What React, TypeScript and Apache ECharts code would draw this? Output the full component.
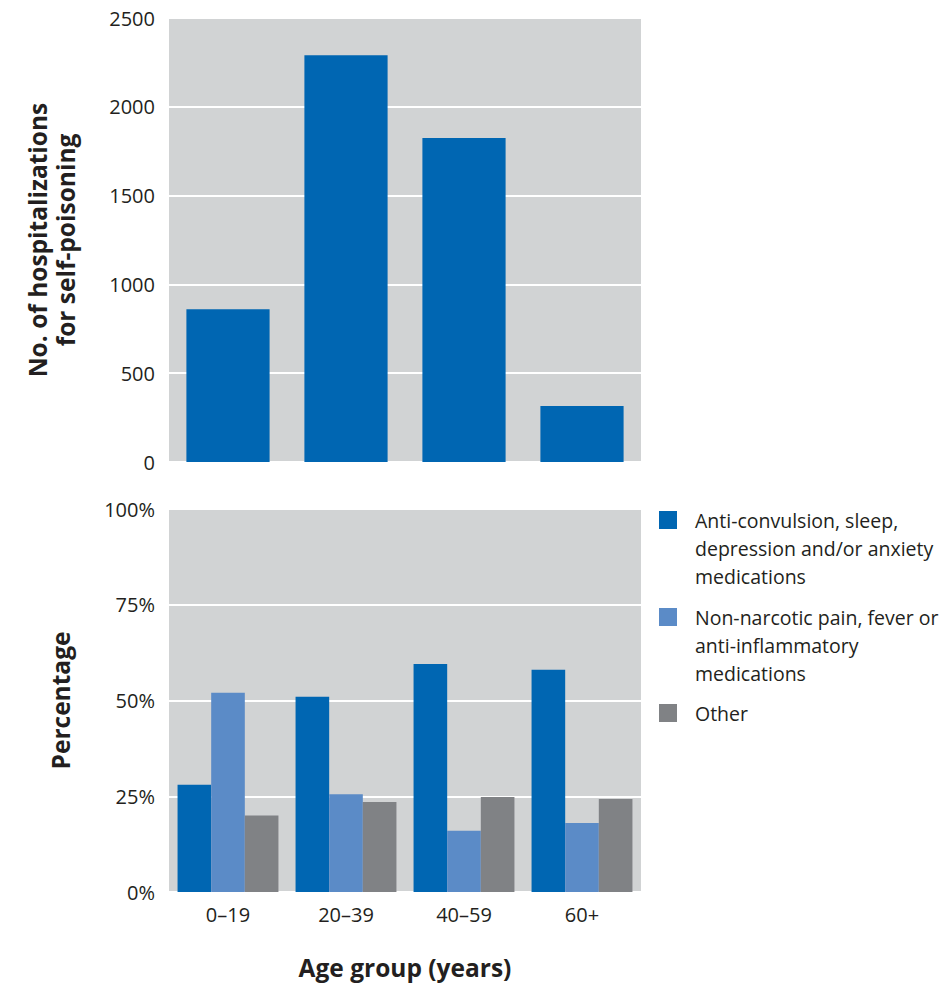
import React, { useEffect, useRef } from "react";
import * as echarts from "echarts";

const ageGroups = ["0–19", "20–39", "40–59", "60+"];
const hospitalizations = [860, 2290, 1825, 315];
const antiConvulsion = [28, 51, 59.5, 58];
const nonNarcotic = [52, 25.5, 16, 18];
const other = [20, 23.5, 24.8, 24.3];
const seriesNames = [
  "Anti-convulsion, sleep,\ndepression and/or anxiety\nmedications",
  "Non-narcotic pain, fever or\nanti-inflammatory\nmedications",
  "Other",
];
const seriesColors = ["#0066b2", "#5b8bc7", "#808285"];
const topTicks = [0, 500, 1000, 1500, 2000, 2500];
const pctTicks = [0, 25, 50, 75, 100];

const FONT = "'Open Sans', 'Noto Sans', sans-serif";
const TEXT = "#231f20";
const BG = "#d1d3d4";

export default function App() {
  const ref = useRef<HTMLDivElement>(null);
  useEffect(() => {
    if (!ref.current) return;
    const chart = echarts.init(ref.current, undefined, { renderer: "svg" });
    const legendY = [511, 608, 704];
    const graphic: any[] = [];
    seriesNames.forEach((n, i) => {
      graphic.push({
        type: "rect",
        left: 659,
        top: legendY[i],
        shape: { width: 18, height: 18 },
        style: { fill: seriesColors[i] },
      });
      graphic.push({
        type: "text",
        left: 695,
        top: legendY[i] - 5,
        style: {
          text: n,
          fill: TEXT,
          font: `19.5px ${FONT}`,
          lineHeight: 28,
        },
      });
    });
    const yLabel = {
      color: TEXT,
      fontSize: 20,
      fontFamily: FONT,
      margin: 14,
    };
    const titleStyle = { color: TEXT, fontSize: 24.5, fontWeight: "bold", fontFamily: FONT };
    chart.setOption({
      animation: false,
      textStyle: { fontFamily: FONT },
      grid: [
        { left: 169, top: 18, width: 472, height: 444, show: true, backgroundColor: BG, borderWidth: 0 },
        { left: 169, top: 509, width: 472, height: 383, show: true, backgroundColor: BG, borderWidth: 0 },
      ],
      xAxis: [
        {
          type: "category",
          gridIndex: 0,
          data: ageGroups,
          axisLine: { show: false },
          axisTick: { show: false },
          axisLabel: { show: false },
        },
        {
          type: "category",
          gridIndex: 1,
          data: ageGroups,
          axisLine: { show: false },
          axisTick: { show: false },
          axisLabel: { color: TEXT, fontSize: 20, fontFamily: FONT, margin: 12 },
          name: "Age group (years)",
          nameLocation: "middle",
          nameGap: 63,
          nameTextStyle: titleStyle,
        },
      ],
      yAxis: [
        {
          type: "value",
          gridIndex: 0,
          min: topTicks[0],
          max: topTicks[topTicks.length - 1],
          interval: 500,
          axisLine: { show: false },
          axisTick: { show: false },
          axisLabel: { ...yLabel, formatter: (v: number) => String(v) },
          splitLine: { lineStyle: { color: "#ffffff", width: 2 } },
          name: "No. of hospitalizations\nfor self-poisoning",
          nameLocation: "middle",
          nameGap: 90,
          nameRotate: 90,
          nameTextStyle: { ...titleStyle, lineHeight: 28 },
        },
        {
          type: "value",
          gridIndex: 1,
          min: pctTicks[0],
          max: pctTicks[pctTicks.length - 1],
          interval: 25,
          axisLine: { show: false },
          axisTick: { show: false },
          axisLabel: { ...yLabel, formatter: "{value}%" },
          splitLine: { lineStyle: { color: "#ffffff", width: 2 } },
          name: "Percentage",
          nameLocation: "middle",
          nameGap: 96,
          nameRotate: 90,
          nameTextStyle: titleStyle,
        },
      ],
      series: [
        {
          type: "bar",
          xAxisIndex: 0,
          yAxisIndex: 0,
          data: hospitalizations,
          barCategoryGap: "29.5%",
          itemStyle: { color: seriesColors[0] },
        },
        ...[antiConvulsion, nonNarcotic, other].map((d, i) => ({
          type: "bar",
          name: seriesNames[i],
          xAxisIndex: 1,
          yAxisIndex: 1,
          data: d,
          barGap: "0%",
          barCategoryGap: "14.5%",
          itemStyle: { color: seriesColors[i] },
        })),
      ],
      graphic,
    });
    return () => chart.dispose();
  }, []);
  return (
    <div
      ref={ref}
      style={{ position: "fixed", left: 0, top: 0, width: 943, height: 988, background: "#fff" }}
    />
  );
}
